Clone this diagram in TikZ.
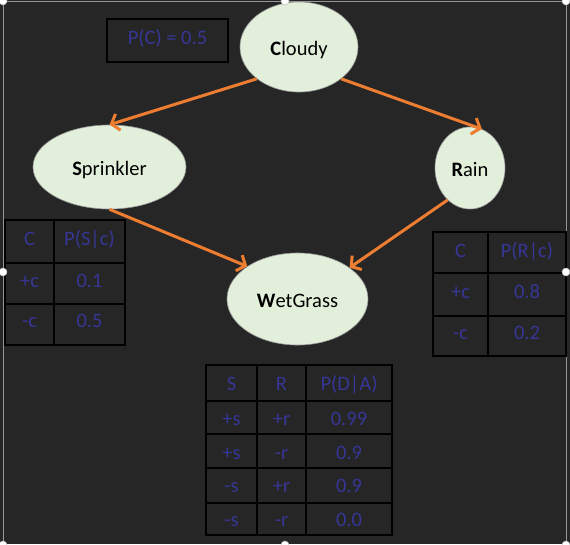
\documentclass[tikz,border=0pt]{standalone}
\usepackage{fontspec}
\setmainfont{Carlito}
\usetikzlibrary{shapes.geometric,arrows.meta}
\definecolor{bg}{RGB}{38,38,38}
\definecolor{nodefill}{RGB}{226,239,218}
\definecolor{arrowc}{RGB}{237,125,49}
\definecolor{tabtext}{RGB}{54,54,150}
\definecolor{framec}{RGB}{150,150,150}
\tikzset{
  bnode/.style={ellipse, fill=nodefill, draw=gray!80, line width=0.6pt, inner sep=0pt,
    font=\fontsize{20.5}{24}\selectfont, text=black, text height=16pt, text depth=0pt},
  arr/.style={draw=arrowc, line width=3pt, -{Straight Barb[length=7pt,width=17pt]}},
  cell/.style={font=\fontsize{20.5}{24}\selectfont, text=tabtext, inner sep=0pt,
    text height=13.2pt, text depth=0pt},
  outer/.style={draw=black, line width=2.6pt},
  inner/.style={draw=black, line width=1.2pt},
  handle/.style={fill=white, draw=gray!50, line width=0.5pt},
}
\begin{document}
\begin{tikzpicture}[x=1pt,y=-1pt]
\useasboundingbox (0,0) rectangle (570,544);
\fill[bg] (0,0) rectangle (570,544);
% frame
\draw[framec, line width=1pt] (3,546) -- (3,1) -- (566,1) -- (566,546);

% P(C) box
\draw[outer] (107,19) rectangle (228,62);
\node[cell] (pc) at (167.5,38) {P(C) = 0.5};

% nodes
\node[bnode, minimum width=118pt, minimum height=90pt] (cloudy) at (299,47) {\textbf{C}loudy};
\node[bnode, minimum width=153pt, minimum height=84pt] (sprinkler) at (109.5,167) {\textbf{S}prinkler};
\node[bnode, minimum width=70pt, minimum height=82pt] (rain) at (470,168) {\textbf{R}ain};
\node[bnode, minimum width=141pt, minimum height=92pt] (wet) at (297.5,299) {\textbf{W}etGrass};

% arrows
\draw[arr] (cloudy.217) -- (sprinkler.north);
\draw[arr] (cloudy.323) -- (rain.73);
\draw[arr] (sprinkler.south) -- (wet.147);
\draw[arr] (rain.235) -- (wet.31);

% table S
\draw[inner] (54,220) -- (54,345);
\draw[inner] (5,263) -- (125,263);
\draw[inner] (5,304) -- (125,304);
\draw[outer] (5,220) rectangle (125,345);
\node[cell] (s11) at (29.5,239) {C};
\node[cell] (s12) at (89.5,239) {P(S|c)};
\node[cell] (s21) at (29.5,280.5) {+c};
\node[cell] (s22) at (89.5,280.5) {0.1};
\node[cell] (s31) at (29.5,321) {-c};
\node[cell] (s32) at (89.5,321) {0.5};

% table R
\draw[inner] (488,232) -- (488,356);
\draw[inner] (433,273) -- (566,273);
\draw[inner] (433,316) -- (566,316);
\draw[outer] (433,232) rectangle (566,356);
\node[cell] (r11) at (460.5,251) {C};
\node[cell] (r12) at (527,251) {P(R|c)};
\node[cell] (r21) at (460.5,292) {+c};
\node[cell] (r22) at (527,292) {0.8};
\node[cell] (r31) at (460.5,333) {-c};
\node[cell] (r32) at (527,333) {0.2};

% table D
\draw[inner] (257,365) -- (257,535);
\draw[inner] (306,365) -- (306,535);
\draw[draw=black, line width=2pt] (206,401) -- (392,401);
\draw[inner] (206,434) -- (392,434);
\draw[inner] (206,468) -- (392,468);
\draw[inner] (206,503) -- (392,503);
\draw[outer] (206,365) rectangle (392,535);
\node[cell] (d11) at (231.5,384) {S};
\node[cell] (d12) at (281.5,384) {R};
\node[cell] (d13) at (349,384) {P(D|A)};
\node[cell] (d21) at (231.5,419) {+s};
\node[cell] (d22) at (281.5,419) {+r};
\node[cell] (d23) at (349,419) {0.99};
\node[cell] (d31) at (231.5,453) {+s};
\node[cell] (d32) at (281.5,453) {-r};
\node[cell] (d33) at (349,453) {0.9};
\node[cell] (d41) at (231.5,485.5) {-s};
\node[cell] (d42) at (281.5,485.5) {+r};
\node[cell] (d43) at (349,485.5) {0.9};
\node[cell] (d51) at (231.5,519.5) {-s};
\node[cell] (d52) at (281.5,519.5) {-r};
\node[cell] (d53) at (349,519.5) {0.0};

% selection handles
\foreach \p in {(3,1),(285,1),(566,1),(3,272),(566,272),(3,545),(285,545),(566,545)}
  \filldraw[handle] \p circle (4pt);
\end{tikzpicture}
\end{document}
